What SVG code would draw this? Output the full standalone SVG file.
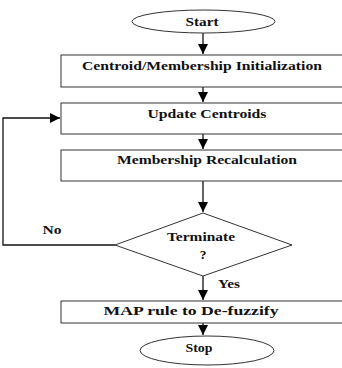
<svg xmlns="http://www.w3.org/2000/svg" width="342" height="368" viewBox="0 0 342 368">
<defs>
<marker id="ah" markerWidth="10" markerHeight="10" refX="10" refY="5" orient="auto" markerUnits="userSpaceOnUse">
<path d="M0,0 L10,5 L0,10 Z" fill="#000"/>
</marker>
<style>
.box{fill:#fff;stroke:#333;stroke-width:1}
.t{font-family:"Liberation Serif","Times New Roman",serif;font-weight:bold;font-size:13.5px;fill:#111;text-anchor:middle}
.c{fill:none;stroke:#111;stroke-width:1.3}
</style>
</defs>
<rect width="342" height="368" fill="#fff"/>
<g id="connectors">
<path class="c" d="M203,33 V54" marker-end="url(#ah)"/>
<path class="c" d="M203,87 V102" marker-end="url(#ah)"/>
<path class="c" d="M203,134 V149" marker-end="url(#ah)"/>
<path class="c" d="M203,181 V212" marker-end="url(#ah)"/>
<path class="c" d="M203,276 V300" marker-end="url(#ah)"/>
<path class="c" d="M203,323 V335" marker-end="url(#ah)"/>
<path class="c" d="M115,245 H3 V118 H60" marker-end="url(#ah)"/>
<text class="t" x="52" y="234" textLength="19" lengthAdjust="spacingAndGlyphs">No</text>
<text class="t" x="229" y="288" textLength="22" lengthAdjust="spacingAndGlyphs">Yes</text>
</g>
<g id="start">
<ellipse class="box" cx="203.5" cy="21.5" rx="71.5" ry="11.5"/>
<text class="t" x="202" y="26" textLength="33" lengthAdjust="spacingAndGlyphs">Start</text>
</g>
<g id="init">
<rect class="box" x="61" y="55" width="290" height="32"/>
<text class="t" x="202" y="70" textLength="240" lengthAdjust="spacingAndGlyphs">Centroid/Membership Initialization</text>
</g>
<g id="update">
<rect class="box" x="61" y="103" width="290" height="31"/>
<text class="t" x="207" y="118" textLength="119" lengthAdjust="spacingAndGlyphs">Update Centroids</text>
</g>
<g id="recalc">
<rect class="box" x="61" y="150" width="290" height="31"/>
<text class="t" x="207" y="164" textLength="180" lengthAdjust="spacingAndGlyphs">Membership Recalculation</text>
</g>
<g id="terminate">
<polygon class="box" points="203,213 292,245 203,276 115,245"/>
<text class="t" x="201" y="241" textLength="68" lengthAdjust="spacingAndGlyphs">Terminate</text>
<text class="t" x="203" y="259">?</text>
</g>
<g id="map">
<rect class="box" x="61" y="301" width="290" height="22"/>
<text class="t" x="191" y="315" textLength="175" lengthAdjust="spacingAndGlyphs">MAP rule to De-fuzzify</text>
</g>
<g id="stop">
<ellipse class="box" cx="207" cy="350.5" rx="67" ry="14.5"/>
<text class="t" x="199" y="352" textLength="27" lengthAdjust="spacingAndGlyphs">Stop</text>
</g>
</svg>
